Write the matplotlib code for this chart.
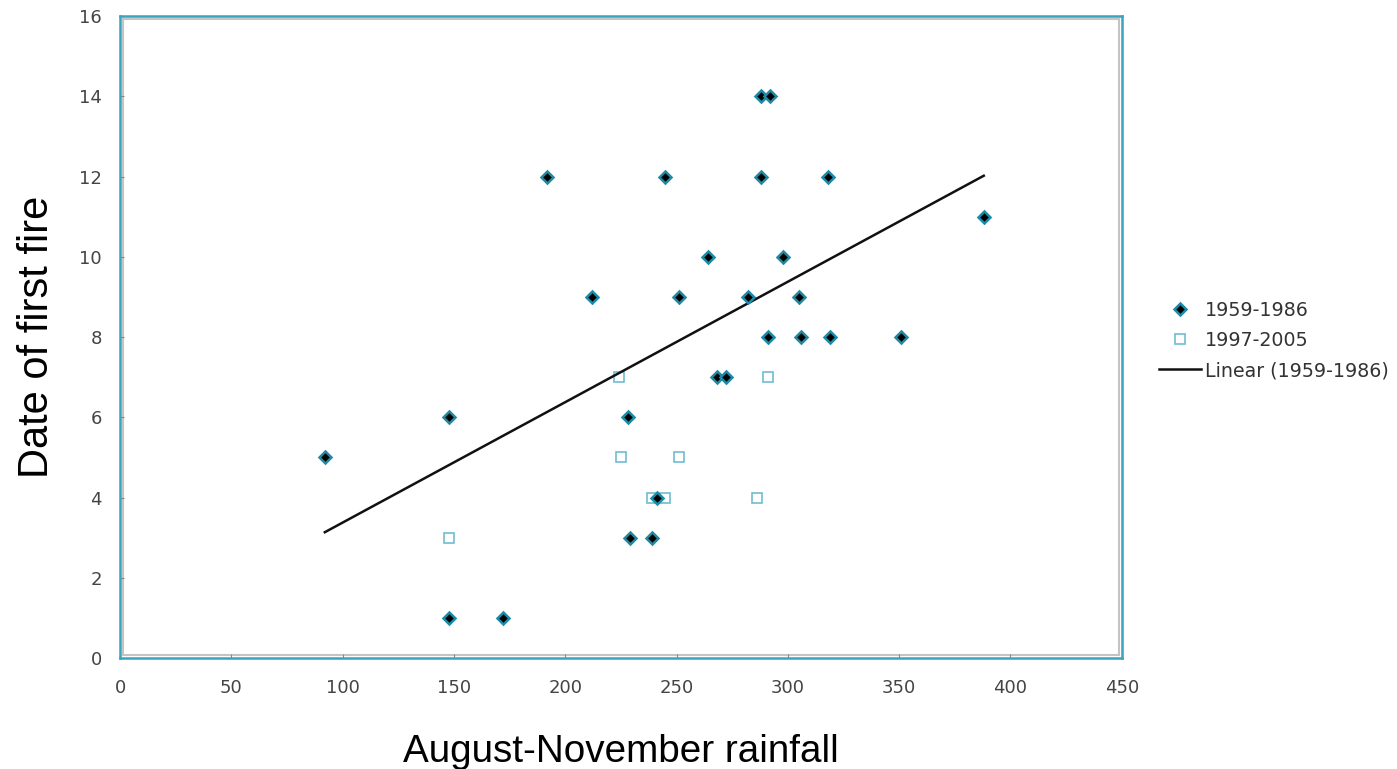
import matplotlib.pyplot as plt
from matplotlib.patches import Rectangle
import numpy as np

# rainfall (x) and date of first fire (y)
rain_old = [92, 148, 148, 172, 192, 212, 228, 229, 239, 241, 245, 251, 264,
            268, 272, 282, 288, 292, 288, 291, 298, 305, 306, 318, 319, 351, 388]
fire_old = [5, 6, 1, 1, 12, 9, 6, 3, 3, 4, 12, 9, 10,
            7, 7, 9, 14, 14, 12, 8, 10, 9, 8, 12, 8, 8, 11]

rain_new = [148, 224, 225, 239, 245, 251, 286, 291]
fire_new = [3, 7, 5, 4, 4, 5, 4, 7]

xticks = list(range(0, 451, 50))
yticks = list(range(0, 17, 2))

teal = '#3aa3bd'

fig = plt.figure(figsize=(13.97, 7.69), dpi=100)
ax = fig.add_axes([0.0859, 0.1443, 0.7171, 0.8349])

ax.plot(rain_old, fire_old, linestyle='none', marker='D', markersize=6.5,
        markerfacecolor='black', markeredgecolor='#1f8aa5', markeredgewidth=1.8,
        label='1959-1986', zorder=3)
ax.plot(rain_new, fire_new, linestyle='none', marker='s', markersize=7.5,
        markerfacecolor='none', markeredgecolor='#6fbcd0', markeredgewidth=1.2,
        label='1997-2005', zorder=2)

# linear fit of the 1959-1986 series
k, b = np.polyfit(rain_old, fire_old, 1)
xs = np.array([min(rain_old), max(rain_old)])
ax.plot(xs, k * xs + b, color='#111111', linewidth=1.8, label='Linear (1959-1986)')

ax.set_xlim(0, 450)
ax.set_ylim(0, 16)
ax.set_xticks(xticks)
ax.set_yticks(yticks)
ax.tick_params(direction='in', length=3, color='#888888', labelcolor='#444444',
               labelsize=13)
ax.tick_params(axis='x', pad=15)
ax.tick_params(axis='y', pad=13)
for s in ax.spines.values():
    s.set_color(teal)
    s.set_linewidth(1.8)
# thin grey inner frame
ax.add_patch(Rectangle((0.0025, 0.004), 0.995, 0.992, transform=ax.transAxes,
                       fill=False, edgecolor='#c4c4c4', linewidth=1.5, zorder=1))

ax.set_xlabel('August-November rainfall', fontsize=27.8, family='Liberation Sans',
              labelpad=27)
ax.set_ylabel('Date of first fire', fontsize=30, family='Liberation Sans',
              labelpad=16)

leg = ax.legend(loc='upper left', bbox_to_anchor=(1.03, 0.568), frameon=False,
                fontsize=13.7, handlelength=2.2, handletextpad=0.2,
                labelspacing=0.58, borderaxespad=0)
for t in leg.get_texts():
    t.set_color('#333333')

fig.savefig('out.png', dpi=100)
